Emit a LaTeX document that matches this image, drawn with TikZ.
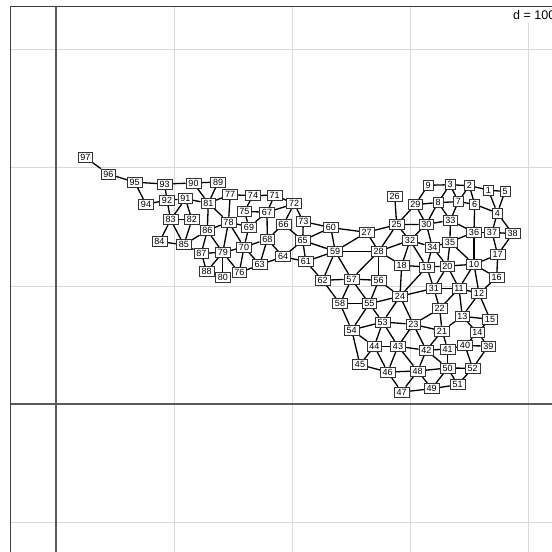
\documentclass[tikz,border=0pt]{standalone}
\usepackage{fontspec}
\setmainfont{Liberation Sans}
\pgfdeclarelayer{gridlayer}
\pgfdeclarelayer{bg}
\pgfsetlayers{gridlayer,bg,main}
\begin{document}
\begin{tikzpicture}[x=1pt,y=-1pt,
  lab/.style={draw=black!80, fill=white, line width=0.75pt, inner xsep=2.4pt, inner ysep=1.8pt,
    font=\fontsize{9}{9}\selectfont, text height=6.3pt, text depth=0pt},
  edge/.style={line width=1.3pt, black},
  gridc/.style={line width=0.8pt, black!15},
  axisc/.style={line width=1.1pt, black!65},
  framec/.style={line width=0.9pt, black!75}]
\useasboundingbox (0,0) rectangle (552,552);
\clip (0,0) rectangle (552,552);
\begin{pgfonlayer}{gridlayer}
\foreach \x in {174.5,292.5,410.5,528.5} \draw[gridc] (\x,6.5) -- (\x,552);
\foreach \y in {49.5,167.5,286,522} \draw[gridc] (10.5,\y) -- (552,\y);
\draw[axisc] (56,6.5) -- (56,552);
\draw[axisc] (10.5,404) -- (552,404);
\draw[framec] (10.5,552) -- (10.5,6.5) -- (552,6.5);
\end{pgfonlayer}
\node[fill=white, anchor=base west, inner sep=3pt, font=\fontsize{12.5}{12.5}\selectfont] (dlab) at (510,19.5) {d = 100};
\foreach \n/\x/\y in {
97/85.3/157.3, 96/108.3/174, 95/134.7/182.2, 93/164.6/184, 90/193.5/183, 89/218.2/182,
94/146/204.2, 92/167/200.2, 91/185.3/198.8, 81/208.3/203.2, 77/230.2/194.7, 74/253/195.7,
71/274.7/195, 72/294.2/203.8, 75/244.3/211.3, 67/267/212.3, 78/228.5/222, 69/249/227,
66/283.5/224.2, 73/303.3/221.5, 60/330.8/227.6, 27/366.6/232.3, 68/267.3/239.3, 65/302.7/240.5,
83/170.7/219.8, 82/192/219.8, 86/207.3/230.5, 84/159.5/241.6, 85/183.8/244.8, 87/201.3/253.2,
79/222.8/252.5, 70/244/247, 59/335.2/251.3, 64/283.2/256.8, 61/305.8/261.5, 63/259.7/264.7,
76/239.3/272.8, 88/206.7/271.5, 80/222.8/277.7, 62/322.6/280.3, 57/351.5/279.1, 28/378.7/251.3,
56/378.7/280.3, 9/428/185.3, 3/450/184.7, 2/469.3/185.7, 1/488.3/190, 5/505/191.7,
26/394.7/196.3, 29/415.3/204.7, 8/438/202.5, 7/458.3/201.7, 6/474.7/204.3, 4/497.3/213,
25/396.7/224.7, 30/426.3/224.3, 33/450.3/220.3, 36/474/232.3, 37/492/232.3, 38/512.7/233.7,
32/410/240.3, 34/432.3/247, 35/450/242, 17/497.7/254.7, 18/401.7/265.3, 19/426.7/267,
20/447.3/266, 10/474/264.3, 16/496.7/277.7, 31/433.8/288.3, 11/459/288.3, 12/479/293.5,
24/400/296.3, 58/340/303.7, 55/369.3/303.7, 22/439.7/308.7, 13/462.3/316.3, 15/490/319.3,
53/382.7/322, 23/413.3/324.3, 54/351.7/330, 21/442/331, 14/477.3/332.7, 44/374.3/346.3,
43/398/346.3, 42/426.3/350.3, 41/447.7/349, 40/465/345.7, 39/488.3/346, 45/360/364.7,
46/387.7/372, 48/417.7/371, 50/447.7/368, 52/472.7/368.3, 51/457.7/384.7, 47/401.7/392,
49/431.7/388.7}
  \node[lab] (n\n) at (\x,\y) {\n};
\begin{pgfonlayer}{bg}
\foreach \a/\b in {
97/96, 96/95, 95/93, 95/94, 93/90, 93/92, 90/89, 90/81, 89/81, 94/92, 92/91, 92/83,
91/81, 91/82, 91/83, 83/82, 83/84, 83/85, 82/85, 82/86, 81/86, 81/77, 81/78, 86/85,
86/87, 86/79, 86/78, 84/85, 85/87, 87/88, 87/79, 88/79, 79/80, 79/70, 79/78, 79/76,
77/74, 77/78, 74/71, 74/75, 71/67, 71/72, 72/67, 72/66, 72/73, 75/67, 75/69, 78/69,
78/70, 69/70, 69/67, 67/68, 66/68, 66/65, 73/65, 73/60, 65/60, 65/59, 65/64, 65/61,
60/59, 60/27, 59/27, 59/28, 61/59, 61/62, 59/62, 59/57, 62/57, 64/61, 68/64, 68/63,
70/68, 70/63, 70/76, 63/76, 63/64, 57/56, 27/28, 27/25,
9/3, 3/2, 2/1, 1/5, 1/4, 5/4, 9/29, 3/8, 3/7, 2/7, 2/6, 29/8, 8/7, 7/6, 6/4, 26/25,
29/25, 29/30, 8/30, 8/33, 7/33, 25/30, 30/33, 6/36, 4/37, 4/38, 36/37, 37/38, 33/36,
33/35, 35/36, 25/28, 25/32, 30/32, 30/34, 32/34, 34/35, 32/28, 32/18, 32/19, 34/19,
34/20, 35/20, 35/10, 28/18, 28/56, 28/57, 18/19, 19/20, 20/10, 36/10, 17/10, 38/17,
37/17, 17/16, 10/16, 10/12, 10/11, 20/11, 20/31, 19/31, 19/24, 18/24, 31/11, 11/12, 12/16,
62/58, 57/58, 57/55, 56/55, 56/24, 58/55, 55/24, 58/54, 55/54, 55/53, 24/53, 24/23,
24/31, 31/22, 11/22, 11/13, 12/13, 12/15, 13/15, 13/14, 22/21, 22/23, 13/21, 53/23,
53/54, 53/44, 53/43, 23/43, 23/42, 23/21, 54/44, 54/45, 44/43, 44/45, 44/46, 43/46,
43/48, 43/42, 42/48, 42/41, 21/41, 21/42, 41/50, 42/50, 41/40, 40/39, 40/52, 39/52,
14/40, 14/39, 45/46, 46/48, 48/50, 50/52, 46/47, 48/47, 48/49, 47/49, 49/50, 49/51,
50/51, 52/51, 15/14}
  \draw[edge] (n\a) -- (n\b);
\end{pgfonlayer}
\end{tikzpicture}
\end{document}
